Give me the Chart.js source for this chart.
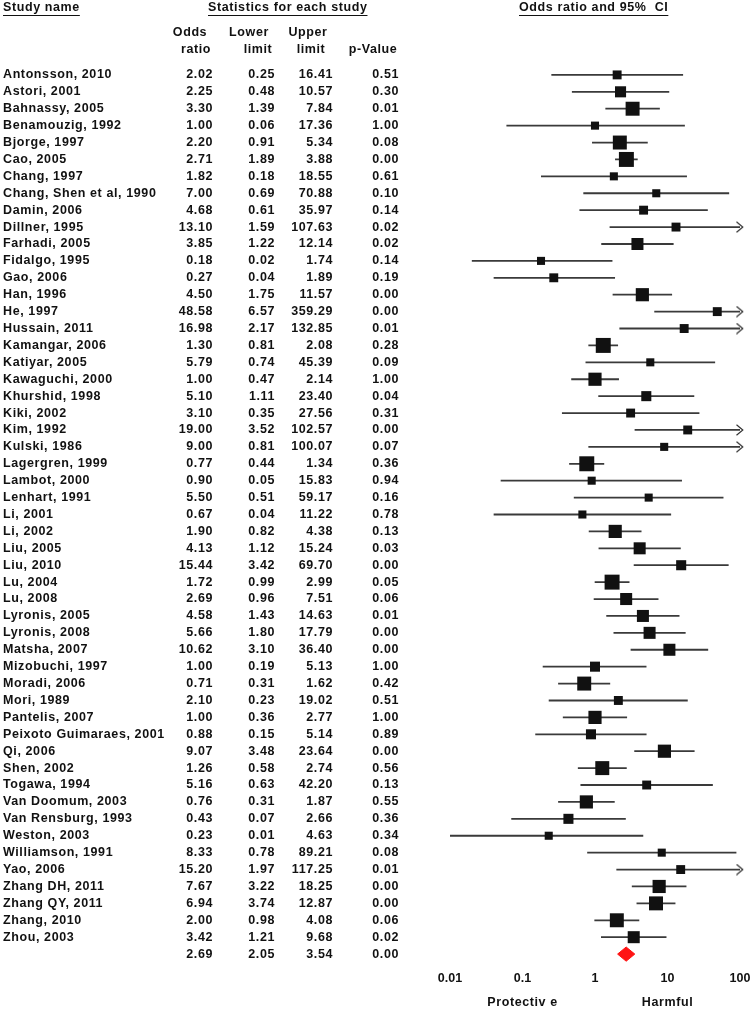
<!DOCTYPE html>
<html>
<head>
<meta charset="utf-8">
<script src="https://cdn.jsdelivr.net/npm/chart.js@4.4.1/dist/chart.umd.min.js"></script>
<style>
html, body { margin: 0; padding: 0; background: #fff; }
#wrap { position: relative; width: 756px; height: 1010px; }
</style>
</head>
<body>
<div id="wrap"><canvas id="forest" width="756" height="1010"></canvas></div>
<script>
// study data
const studies = [
    'Antonsson, 2010', 'Astori, 2001', 'Bahnassy, 2005', 'Benamouzig, 1992', 'Bjorge, 1997',
    'Cao, 2005', 'Chang, 1997', 'Chang, Shen et al, 1990', 'Damin, 2006', 'Dillner, 1995',
    'Farhadi, 2005', 'Fidalgo, 1995', 'Gao, 2006', 'Han, 1996', 'He, 1997',
    'Hussain, 2011', 'Kamangar, 2006', 'Katiyar, 2005', 'Kawaguchi, 2000', 'Khurshid, 1998',
    'Kiki, 2002', 'Kim, 1992', 'Kulski, 1986', 'Lagergren, 1999', 'Lambot, 2000',
    'Lenhart, 1991', 'Li, 2001', 'Li, 2002', 'Liu, 2005', 'Liu, 2010',
    'Lu, 2004', 'Lu, 2008', 'Lyronis, 2005', 'Lyronis, 2008', 'Matsha, 2007',
    'Mizobuchi, 1997', 'Moradi, 2006', 'Mori, 1989', 'Pantelis, 2007', 'Peixoto Guimaraes, 2001',
    'Qi, 2006', 'Shen, 2002', 'Togawa, 1994', 'Van Doomum, 2003', 'Van Rensburg, 1993',
    'Weston, 2003', 'Williamson, 1991', 'Yao, 2006', 'Zhang DH, 2011', 'Zhang QY, 2011',
    'Zhang, 2010', 'Zhou, 2003'
];
const oddsRatio = [
    2.02, 2.25, 3.30, 1.00, 2.20, 2.71, 1.82, 7.00, 4.68, 13.10,
    3.85, 0.18, 0.27, 4.50, 48.58, 16.98, 1.30, 5.79, 1.00, 5.10,
    3.10, 19.00, 9.00, 0.77, 0.90, 5.50, 0.67, 1.90, 4.13, 15.44,
    1.72, 2.69, 4.58, 5.66, 10.62, 1.00, 0.71, 2.10, 1.00, 0.88,
    9.07, 1.26, 5.16, 0.76, 0.43, 0.23, 8.33, 15.20, 7.67, 6.94,
    2.00, 3.42
];
const lowerLimit = [
    0.25, 0.48, 1.39, 0.06, 0.91, 1.89, 0.18, 0.69, 0.61, 1.59,
    1.22, 0.02, 0.04, 1.75, 6.57, 2.17, 0.81, 0.74, 0.47, 1.11,
    0.35, 3.52, 0.81, 0.44, 0.05, 0.51, 0.04, 0.82, 1.12, 3.42,
    0.99, 0.96, 1.43, 1.80, 3.10, 0.19, 0.31, 0.23, 0.36, 0.15,
    3.48, 0.58, 0.63, 0.31, 0.07, 0.01, 0.78, 1.97, 3.22, 3.74,
    0.98, 1.21
];
const upperLimit = [
    16.41, 10.57, 7.84, 17.36, 5.34, 3.88, 18.55, 70.88, 35.97, 107.63,
    12.14, 1.74, 1.89, 11.57, 359.29, 132.85, 2.08, 45.39, 2.14, 23.40,
    27.56, 102.57, 100.07, 1.34, 15.83, 59.17, 11.22, 4.38, 15.24, 69.70,
    2.99, 7.51, 14.63, 17.79, 36.40, 5.13, 1.62, 19.02, 2.77, 5.14,
    23.64, 2.74, 42.20, 1.87, 2.66, 4.63, 89.21, 117.25, 18.25, 12.87,
    4.08, 9.68
];
const pValue = [
    0.51, 0.30, 0.01, 1.00, 0.08, 0.00, 0.61, 0.10, 0.14, 0.02,
    0.02, 0.14, 0.19, 0.00, 0.00, 0.01, 0.28, 0.09, 1.00, 0.04,
    0.31, 0.00, 0.07, 0.36, 0.94, 0.16, 0.78, 0.13, 0.03, 0.00,
    0.05, 0.06, 0.01, 0.00, 0.00, 1.00, 0.42, 0.51, 1.00, 0.89,
    0.00, 0.56, 0.13, 0.55, 0.36, 0.34, 0.08, 0.01, 0.00, 0.00,
    0.06, 0.02
];
// relative study weights (%), estimated from the square sizes
const relWeight = [
    1.1, 1.7, 2.7, 0.9, 2.7, 3.1, 0.9, 0.9, 1.1, 1.1,
    2.0, 0.9, 1.1, 2.4, 1.1, 1.1, 3.1, 0.9, 2.4, 1.4,
    1.1, 1.1, 0.9, 3.1, 0.9, 0.9, 0.9, 2.4, 2.0, 1.4,
    3.1, 2.0, 2.0, 2.0, 2.0, 1.4, 2.7, 1.1, 2.4, 1.4,
    2.4, 2.7, 1.1, 2.4, 1.4, 0.9, 0.9, 1.1, 2.4, 2.7,
    2.7, 2.0
];
// pooled estimate: odds ratio, lower, upper, p
const pooledStats = [2.69, 2.05, 3.54, 0.00];
const xTicks = [0.01, 0.1, 1, 10, 100];

const X_MIN = xTicks[0];
const X_MAX = xTicks[xTicks.length - 1];
const pooledRow = studies.length;
const FONT = 'bold 12.5px "Liberation Sans", Arial, sans-serif';
const INK = '#111';

// CI segments, broken by null points
const ciData = [];
studies.forEach((s, i) => {
    ciData.push({ x: Math.max(lowerLimit[i], X_MIN), y: i });
    ciData.push({ x: Math.min(upperLimit[i], X_MAX), y: i });
    ciData.push({ x: null, y: null });
});

const squareData = studies.map((s, i) => ({ x: oddsRatio[i], y: i }));
const squareRadius = relWeight.map(w => 8.5 * Math.sqrt(w) / Math.SQRT2);

// arrow heads for intervals running off the axis
const arrowData = [];
studies.forEach((s, i) => {
    if (upperLimit[i] > X_MAX) arrowData.push({ x: X_MAX, y: i });
});

const chevron = document.createElement('canvas');
chevron.width = 8;
chevron.height = 12;
(function () {
    const c = chevron.getContext('2d');
    c.strokeStyle = '#333';
    c.lineWidth = 1.2;
    c.beginPath();
    c.moveTo(0.5, 0.8);
    c.lineTo(6.8, 6);
    c.lineTo(0.5, 11.2);
    c.stroke();
})();

const dh = 0.42;
const diamondData = [
    { x: pooledStats[1], y: pooledRow },
    { x: pooledStats[0], y: pooledRow - dh },
    { x: pooledStats[2], y: pooledRow },
    { x: pooledStats[0], y: pooledRow + dh },
    { x: pooledStats[1], y: pooledRow }
];

// table text, headers and axis captions
const tablePlugin = {
    id: 'studyTable',
    afterDraw(chart) {
        const ctx = chart.ctx;
        const ys = chart.scales.y;
        const xs = chart.scales.x;
        ctx.save();
        ctx.fillStyle = INK;
        ctx.strokeStyle = INK;
        ctx.font = FONT;
        ctx.letterSpacing = '0.6px';
        ctx.textBaseline = 'middle';

        function txt(t, x, y, align) {
            ctx.textAlign = align || 'left';
            ctx.fillText(t, x, y);
        }
        function underlined(t, x, y) {
            ctx.textAlign = 'left';
            ctx.fillText(t, x, y);
            const w = ctx.measureText(t).width;
            ctx.lineWidth = 1;
            ctx.beginPath();
            ctx.moveTo(x, y + 7.5);
            ctx.lineTo(x + w, y + 7.5);
            ctx.stroke();
        }

        underlined('Study name', 3, 8);
        underlined('Statistics for each study', 208, 8);
        underlined('Odds ratio and 95%  CI', 519, 8);

        txt('Odds', 190, 33, 'center');
        txt('ratio', 196, 50, 'center');
        txt('Lower', 249, 33, 'center');
        txt('limit', 258, 50, 'center');
        txt('Upper', 308, 33, 'center');
        txt('limit', 311, 50, 'center');
        txt('p-Value', 373, 50, 'center');

        studies.forEach((name, i) => {
            const py = ys.getPixelForValue(i);
            txt(name, 3, py);
            txt(oddsRatio[i].toFixed(2), 213, py, 'right');
            txt(lowerLimit[i].toFixed(2), 275, py, 'right');
            txt(upperLimit[i].toFixed(2), 333, py, 'right');
            txt(pValue[i].toFixed(2), 399, py, 'right');
        });
        const pp = ys.getPixelForValue(pooledRow);
        txt(pooledStats[0].toFixed(2), 213, pp, 'right');
        txt(pooledStats[1].toFixed(2), 275, pp, 'right');
        txt(pooledStats[2].toFixed(2), 333, pp, 'right');
        txt(pooledStats[3].toFixed(2), 399, pp, 'right');

        txt('Protectiv e', xs.getPixelForValue(0.1), 1003, 'center');
        txt('Harmful', xs.getPixelForValue(10), 1003, 'center');
        ctx.restore();
    }
};

new Chart(document.getElementById('forest'), {
    type: 'scatter',
    data: {
        datasets: [
            {
                label: 'odds ratio',
                data: squareData,
                pointStyle: 'rect',
                pointRadius: squareRadius,
                pointBackgroundColor: INK,
                pointBorderWidth: 0,
                clip: false,
                order: 0
            },
            {
                label: 'pooled',
                data: diamondData,
                showLine: true,
                fill: 'shape',
                backgroundColor: '#ff1414',
                borderColor: '#ff1414',
                borderWidth: 1,
                pointRadius: 0,
                tension: 0,
                clip: false,
                order: 0
            },
            {
                label: 'arrows',
                data: arrowData,
                pointStyle: chevron,
                clip: false,
                order: 1
            },
            {
                label: '95% CI',
                data: ciData,
                showLine: true,
                spanGaps: false,
                borderColor: '#3a3a3a',
                borderWidth: 1.8,
                pointRadius: 0,
                clip: false,
                order: 2
            }
        ]
    },
    options: {
        responsive: false,
        devicePixelRatio: 1,
        animation: false,
        events: [],
        layout: { padding: { left: 450, right: 16, top: 58, bottom: 24 } },
        plugins: {
            legend: { display: false },
            tooltip: { enabled: false }
        },
        scales: {
            x: {
                type: 'logarithmic',
                min: X_MIN,
                max: X_MAX,
                grid: { display: false, drawTicks: false },
                border: { display: false },
                afterBuildTicks: scale => {
                    scale.ticks = xTicks.map(v => ({ value: v }));
                },
                ticks: {
                    autoSkip: false,
                    maxRotation: 0,
                    padding: 0,
                    color: INK,
                    font: { family: '"Liberation Sans", Arial, sans-serif', size: 12.5, weight: 'bold' },
                    callback: value => String(value)
                }
            },
            y: {
                type: 'linear',
                display: false,
                reverse: true,
                min: -1,
                max: pooledRow + 1
            }
        }
    },
    plugins: [tablePlugin]
});
</script>
</body>
</html>
